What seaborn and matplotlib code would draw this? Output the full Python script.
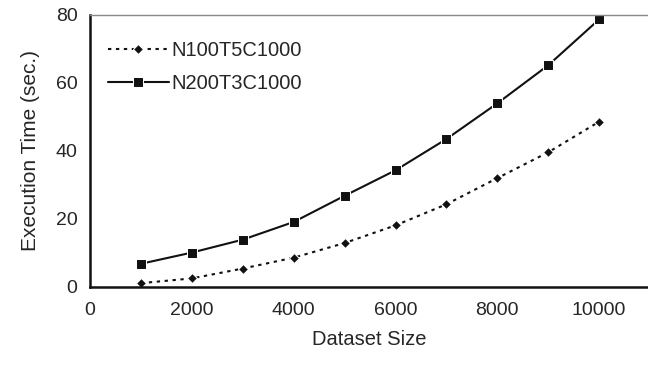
import matplotlib
matplotlib.use("Agg")
from matplotlib import pyplot as plt
import numpy as np
import pandas as pd
import seaborn as sns

# values
dataset_size = [1000, 2000, 3000, 4000, 5000, 6000, 7000, 8000, 9000, 10000]
n100t5c1000 = [1.1, 2.5, 5.4, 8.6, 12.9, 18.1, 24.3, 32.0, 39.6, 48.6]
n200t3c1000 = [6.8, 10.1, 13.9, 19.1, 26.8, 34.3, 43.5, 54.0, 65.2, 78.7]
series_names = ["N100T5C1000", "N200T3C1000"]

df = pd.DataFrame({
    "Dataset Size": dataset_size * 2,
    "Execution Time": n100t5c1000 + n200t3c1000,
    "Series": [series_names[0]] * len(dataset_size) + [series_names[1]] * len(dataset_size),
})

sns.set_style("white")
plt.rcParams["font.family"] = ["Liberation Sans", "DejaVu Sans"]

fig = plt.figure(figsize=(6.48, 3.65), dpi=100)
ax = fig.add_axes([0.139, 0.214, 0.861, 0.745])

sns.lineplot(data=df, x="Dataset Size", y="Execution Time", hue="Series",
             style="Series", palette=["#111111", "#111111"],
             dashes={series_names[0]: (1.6, 2.2), series_names[1]: ""},
             markers={series_names[0]: "D", series_names[1]: "s"},
             markersize=7, linewidth=1.5, ax=ax)

# make diamond a bit smaller than the squares
for line in ax.lines:
    if line.get_marker() == "D":
        line.set_markersize(5.5)

ax.set_xlim(0, 10960)
ax.set_ylim(0, 80)
ax.set_xticks([0, 2000, 4000, 6000, 8000, 10000])
ax.set_yticks([0, 20, 40, 60, 80])
ax.tick_params(axis="both", labelsize=14, direction="in", length=4,
               width=0.8, color="#777777")
ax.tick_params(axis="x", pad=11)
ax.tick_params(axis="y", pad=9)
ax.set_xlabel("Dataset Size", fontsize=14.5, labelpad=8)
ax.set_ylabel("Execution Time (sec.)", fontsize=15, labelpad=11)

for side in ["left", "bottom"]:
    ax.spines[side].set_color("#111111")
    ax.spines[side].set_linewidth(1.8)
ax.spines["top"].set_color("#888888")
ax.spines["top"].set_linewidth(1.0)
ax.spines["right"].set_visible(False)

leg = ax.legend(loc="upper left", bbox_to_anchor=(0.0, 0.97), frameon=False,
                fontsize=14.5, handlelength=3.0, handletextpad=0.15,
                labelspacing=0.7)
for h in leg.legend_handles:
    h.set_color("#111111")

fig.savefig("out.png", dpi=100)
